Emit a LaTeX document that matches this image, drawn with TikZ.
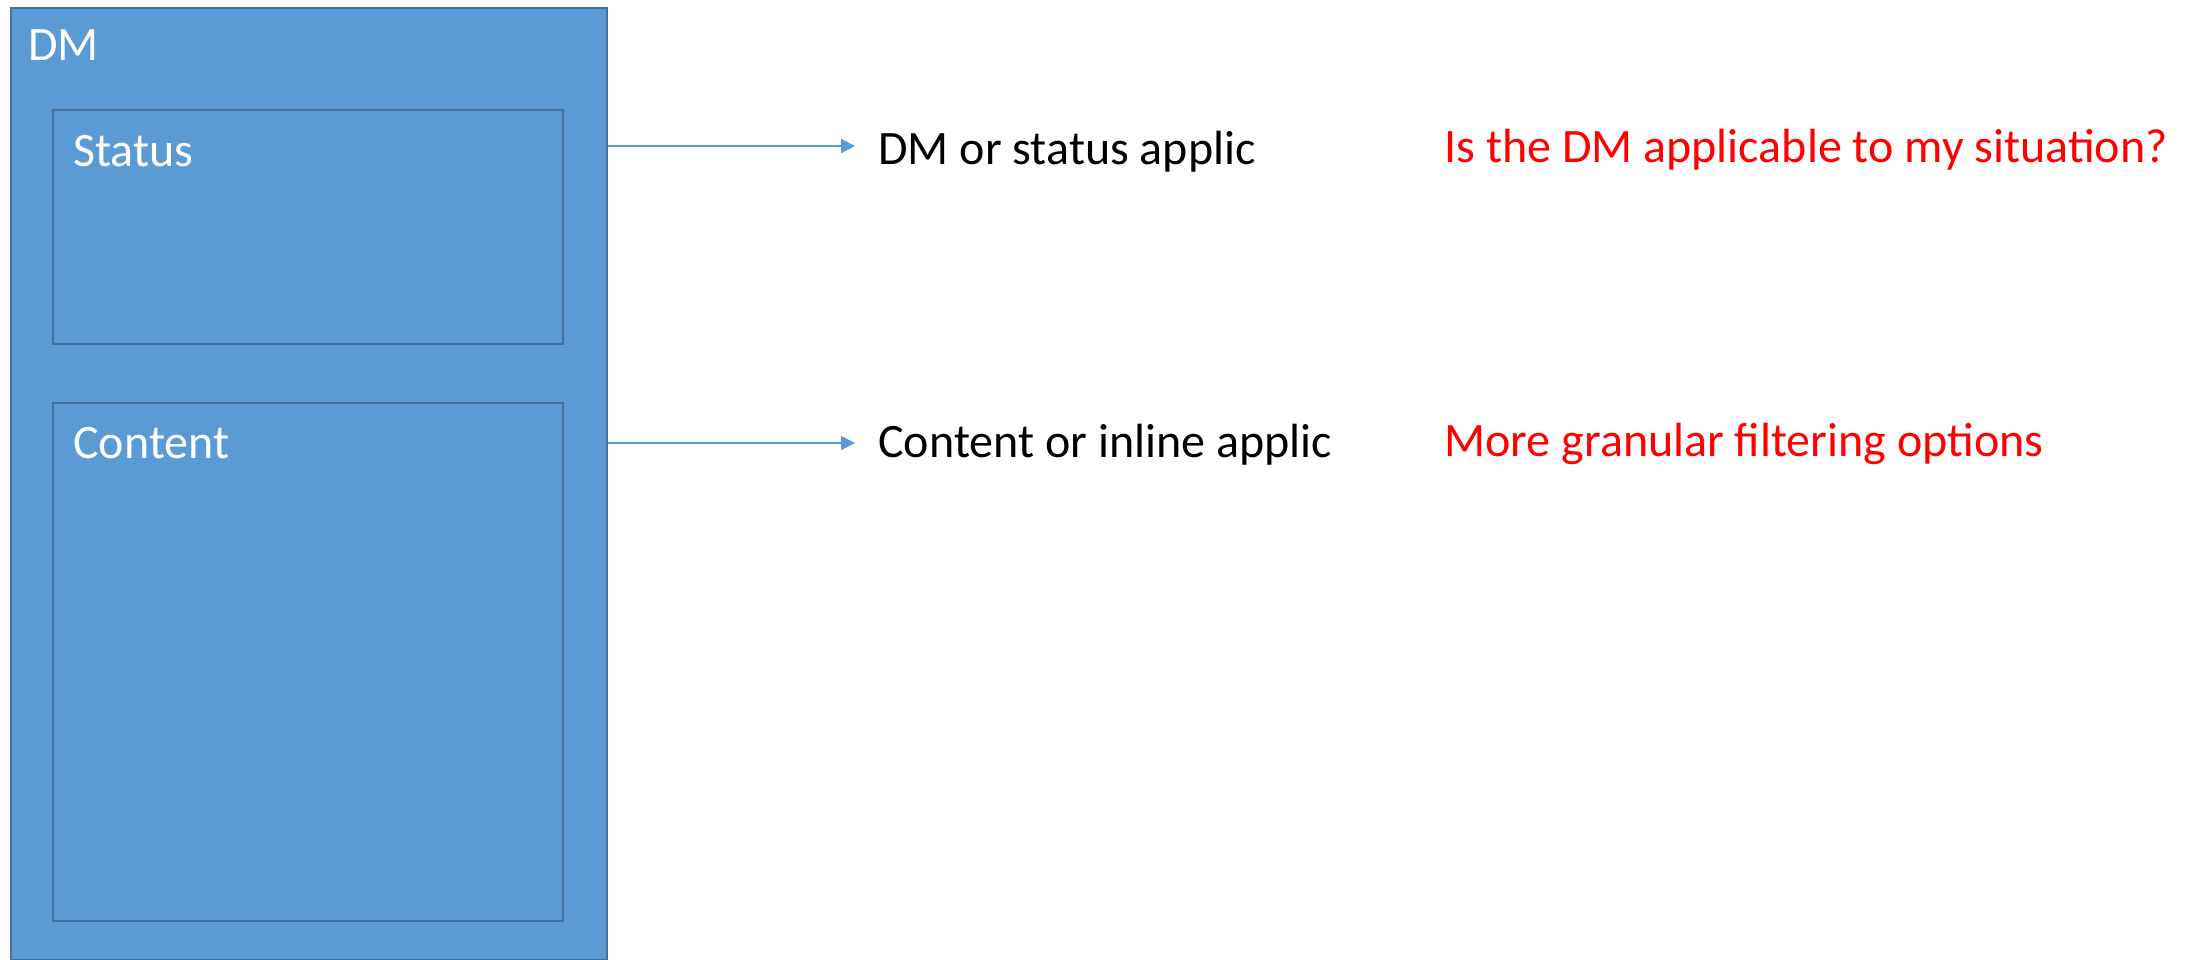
\documentclass[tikz,border=0pt]{standalone}
\usepackage{fontspec}
\setmainfont{Carlito}
\usetikzlibrary{arrows.meta,positioning}
\definecolor{dmblue}{HTML}{5B9BD5}
\definecolor{dmedge}{HTML}{41719C}
\begin{document}
\begin{tikzpicture}[x=0.5pt, y=-0.5pt, font=\fontsize{24}{29}\selectfont,
    box/.style = {draw=dmedge, fill=dmblue, line width=0.75pt, anchor=north west, inner sep=0pt},
    lbl/.style = {white, anchor=base west, inner sep=0pt},
    txt/.style = {anchor=base west, inner sep=0pt},
    note/.style = {txt, red},
    conn/.style = {dmblue, line width=1pt, -{Triangle[length=7pt,width=7pt]}}]
    \useasboundingbox (0,0) rectangle (2198,959);
    % data module and its two parts
    \node[box, minimum width=298pt, minimum height=476pt] (dm) at (10,7) {};
    \node[box, minimum width=255pt, minimum height=117pt] (status) at (52,109) {};
    \node[box, minimum width=255pt, minimum height=259pt] (content) at (52,402) {};
    \node[lbl] (dmlbl) at (28,60) {DM};
    \node[lbl] (statuslbl) at (73,166) {Status};
    \node[lbl] (contentlbl) at (73,458) {Content};
    % applicability
    \node[txt] (dmapp) at (878,164) {DM or status applic};
    \node[txt] (inlineapp) at (878,457) {Content or inline applic};
    \node[note] (q1) at (1444,162) {Is the DM applicable to my situation?};
    \node[note] (q2) at (1444,456) {More granular filtering options};
    \coordinate (tip1) at (855,146);
    \coordinate (tip2) at (855,443);
    \draw[conn] (dm.east |- tip1) -- (tip1);
    \draw[conn] (dm.east |- tip2) -- (tip2);
\end{tikzpicture}
\end{document}
